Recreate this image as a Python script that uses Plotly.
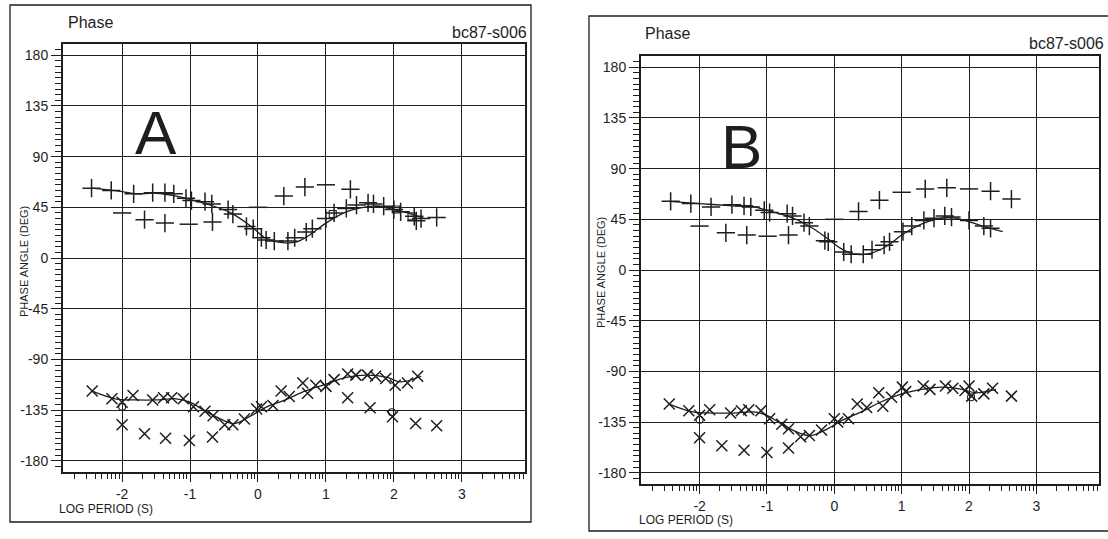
import plotly.graph_objects as go
import math

W, H = 1108, 539
INK = "#1e1e1e"
FONT = "Liberation Sans"

# ---------------- data: panel A ----------------
a_plus_x = [-2.45, -2.16, -1.83, -1.55, -1.37, -1.24, -1.06, -0.98, -0.78, -0.68, -0.44, -0.37,
            -0.17, -0.07, 0.05, 0.12, 0.24, 0.44, 0.54, 0.71, 0.80, 1.00, 1.12, 1.30, 1.45,
            1.62, 1.70, 1.85, 2.00, 2.10, 2.30, 2.40]
a_plus_y = [62, 60, 57, 58, 58, 57, 53, 51, 50, 48, 43, 39, 28, 26, 18, 16, 15, 15, 18, 23, 26,
            35, 40, 44, 47, 49, 48, 46, 43, 41, 37, 35]
a_plus_out_x = [-1.67, -1.37, -0.67, 0.38, 0.69, 1.36, 2.33, 2.63]
a_plus_out_y = [34, 31, 32, 55, 63, 61, 33, 36]
a_dash_x = [-2.0, -1.02, 0.0, 1.0]
a_dash_y = [40, 30, 45, 65]
a_plus_model_x = [-2.45, -2.0, -1.8, -1.5, -1.2, -1.0, -0.7, -0.4, -0.1, 0.1, 0.3, 0.55, 0.75,
                  1.0, 1.3, 1.55, 1.75, 2.0, 2.2, 2.45]
a_plus_model_y = [62, 59, 57, 57.5, 55, 52, 47, 40, 28, 18, 14, 14, 20, 31, 41, 45, 46, 43, 40, 35]
a_sq_x = [1.1, 2.03, 2.26]
a_sq_y = [39, 43, 37]

a_x_x = [-2.44, -2.15, -2.0, -1.84, -1.55, -1.39, -1.27, -1.10, -0.95, -0.78, -0.66, -0.49,
         -0.37, -0.20, -0.02, 0.05, 0.22, 0.34, 0.46, 0.66, 0.73, 0.85, 1.00, 1.12, 1.32,
         1.44, 1.61, 1.73, 1.88, 2.02, 2.20, 2.35]
a_x_y = [-118, -125, -128, -122, -126, -124, -124, -125, -132, -136, -140, -148, -148, -143,
         -134, -132, -131, -118, -123, -111, -120, -113, -114, -108, -103, -104, -104, -105,
         -107, -113, -111, -105]
a_x_out_x = [-2.0, -1.67, -1.36, -1.01, -0.67, 1.32, 1.65, 1.98, 2.32, 2.63]
a_x_out_y = [-148, -156, -160, -162, -159, -124, -133, -141, -147, -149]
a_x_model_x = [-2.45, -2.1, -1.8, -1.5, -1.2, -1.0, -0.8, -0.55, -0.35, -0.1, 0.1, 0.4, 0.7,
               1.0, 1.3, 1.6, 1.9, 2.1, 2.4]
a_x_model_y = [-118, -125, -126, -126, -125, -128, -135, -143, -147, -140, -133, -126, -118,
               -112, -106, -104, -106, -110, -105]
a_circ_x = [-2.0, 1.97]
a_circ_y = [-132, -137]

# ---------------- data: panel B ----------------
b_plus_x = [-2.43, -2.13, -1.83, -1.52, -1.34, -1.24, -1.04, -0.96, -0.70, -0.62, -0.45, -0.37,
            -0.14, -0.09, 0.14, 0.25, 0.43, 0.56, 0.74, 0.82, 1.02, 1.15, 1.33, 1.48, 1.64,
            1.74, 2.00, 2.22, 2.32]
b_plus_y = [61, 59, 56, 58, 57, 56, 53, 51, 50, 48, 42, 39, 26, 25, 16, 14, 14, 18, 22, 25,
            34, 39, 44, 46, 48, 47, 44, 39, 37]
b_plus_out_x = [-1.61, -1.30, -0.68, 0.36, 0.67, 1.35, 1.67, 2.32, 2.63]
b_plus_out_y = [33, 31, 31, 52, 62, 72, 73, 70, 63]
b_dash_x = [-2.0, -0.99, 0.0, 1.0, 2.0]
b_dash_y = [39, 30, 45, 69, 72]
b_plus_model_x = [-2.45, -2.0, -1.5, -1.2, -1.0, -0.7, -0.4, -0.1, 0.1, 0.3, 0.55, 0.8, 1.0,
                  1.3, 1.6, 1.8, 2.0, 2.2, 2.5]
b_plus_model_y = [61, 59, 57, 56, 53, 48, 40, 28, 19, 14, 15, 22, 31, 41, 46, 46, 43, 39, 34]

b_x_x = [-2.45, -2.16, -2.0, -1.85, -1.54, -1.38, -1.27, -1.09, -0.96, -0.78, -0.68, -0.50,
         -0.37, -0.19, 0.0, 0.05, 0.21, 0.34, 0.48, 0.66, 0.72, 0.85, 1.01, 1.06, 1.32, 1.42,
         1.65, 1.76, 1.94, 2.04, 2.22, 2.35]
b_x_y = [-119, -125, -129, -124, -127, -125, -124, -125, -132, -137, -141, -148, -147, -142,
         -132, -135, -132, -119, -122, -109, -121, -113, -104, -108, -103, -106, -103, -105,
         -107, -112, -110, -105]
b_x_out_x = [-2.0, -1.67, -1.34, -1.0, -0.68, 2.0, 2.63]
b_x_out_y = [-149, -156, -160, -162, -158, -103, -112]
b_x_model_x = [-2.45, -2.1, -1.8, -1.5, -1.2, -1.0, -0.8, -0.55, -0.35, -0.1, 0.1, 0.4, 0.7,
               1.0, 1.3, 1.6, 1.9, 2.1, 2.4]
b_x_model_y = [-119, -126, -127, -127, -126, -129, -136, -144, -147, -141, -134, -126, -117,
               -110, -106, -104, -106, -109, -106]
b_circ_x = [-2.0, 2.03]
b_circ_y = [-133, -113]

# ---------------- axes ----------------
y_ticks = [-180, -135, -90, -45, 0, 45, 90, 135, 180]
y_labels = ["-180", "-135", "-90", "-45", "0", "45", "90", "135", "180"]
x_ticks = [-2, -1, 0, 1, 2, 3]
x_labels = ["-2", "-1", "0", "1", "2", "3"]
x_range = [-2.87, 3.93]
y_range = [-190, 190]

x_minor = [d + math.log10(k) for d in range(-3, 4) for k in range(2, 10)
           if x_range[0] < d + math.log10(k) < x_range[1]]
y_minor = [v for v in range(-185, 190, 5) if v % 45 != 0]


def px(x):
    return x / W


def py(y):
    return 1 - y / H


fig = go.Figure()


def add_panel(idx, plus, plus_out, dash, plus_model, squares, xs, x_out, x_model, circles):
    xa = "x" if idx == 1 else "x2"
    ya = "y" if idx == 1 else "y2"
    common = dict(xaxis=xa, yaxis=ya, showlegend=False, hoverinfo="skip")

    def mk(sym, size, lw):
        return dict(symbol=sym, size=size, color=INK, line=dict(color=INK, width=lw))

    fig.add_trace(go.Scatter(x=plus_model[0], y=plus_model[1], mode="lines",
                             line=dict(color=INK, width=1.3, shape="spline"), **common))
    fig.add_trace(go.Scatter(x=x_model[0], y=x_model[1], mode="lines",
                             line=dict(color=INK, width=1.3, shape="spline"), **common))
    fig.add_trace(go.Scatter(x=plus[0], y=plus[1], mode="markers",
                             marker=mk("cross-thin-open", 13, 1.5), **common))
    fig.add_trace(go.Scatter(x=plus_out[0], y=plus_out[1], mode="markers",
                             marker=mk("cross-thin-open", 13, 1.5), **common))
    fig.add_trace(go.Scatter(x=dash[0], y=dash[1], mode="markers",
                             marker=mk("line-ew-open", 13, 1.5), **common))
    fig.add_trace(go.Scatter(x=squares[0], y=squares[1], mode="markers",
                             marker=mk("square-open", 7, 1.1), **common))
    fig.add_trace(go.Scatter(x=xs[0], y=xs[1], mode="markers",
                             marker=mk("x-thin-open", 11, 1.5), **common))
    fig.add_trace(go.Scatter(x=x_out[0], y=x_out[1], mode="markers",
                             marker=mk("x-thin-open", 11, 1.5), **common))
    fig.add_trace(go.Scatter(x=circles[0], y=circles[1], mode="markers",
                             marker=mk("circle-open", 7, 1.1), **common))


add_panel(1, (a_plus_x, a_plus_y), (a_plus_out_x, a_plus_out_y), (a_dash_x, a_dash_y),
          (a_plus_model_x, a_plus_model_y), (a_sq_x, a_sq_y),
          (a_x_x, a_x_y), (a_x_out_x, a_x_out_y), (a_x_model_x, a_x_model_y),
          (a_circ_x, a_circ_y))
add_panel(2, (b_plus_x, b_plus_y), (b_plus_out_x, b_plus_out_y), (b_dash_x, b_dash_y),
          (b_plus_model_x, b_plus_model_y), ([], []),
          (b_x_x, b_x_y), (b_x_out_x, b_x_out_y), (b_x_model_x, b_x_model_y),
          (b_circ_x, b_circ_y))


def xaxis(left, right, anchor):
    return dict(domain=[px(left), px(right)], range=x_range, anchor=anchor,
                tickmode="array", tickvals=x_ticks, ticktext=x_labels,
                ticks="outside", ticklen=8, tickwidth=1.2, tickcolor=INK,
                tickfont=dict(family=FONT, size=14, color=INK),
                showgrid=True, gridcolor=INK, gridwidth=1.3,
                showline=True, mirror=True, linecolor=INK, linewidth=2,
                zeroline=False,
                minor=dict(tickvals=x_minor, ticks="outside", ticklen=5,
                           tickwidth=1, tickcolor=INK, showgrid=False))


def yaxis(top, bottom, anchor):
    return dict(domain=[py(bottom), py(top)], range=y_range, anchor=anchor,
                tickmode="array", tickvals=y_ticks, ticktext=y_labels,
                ticks="outside", ticklen=10, tickwidth=1.2, tickcolor=INK,
                tickfont=dict(family=FONT, size=14, color=INK),
                showgrid=True, gridcolor=INK, gridwidth=1.3,
                showline=True, mirror=True, linecolor=INK, linewidth=2,
                zeroline=False,
                minor=dict(tickvals=y_minor, ticks="outside", ticklen=6,
                           tickwidth=1, tickcolor=INK, showgrid=False))


A_L, A_R, A_T, A_B = 63, 525, 44, 472
B_L, B_R, B_T, B_B = 641, 1099, 56, 484

fig.update_layout(
    width=W, height=H, margin=dict(l=0, r=0, t=0, b=0),
    paper_bgcolor="white", plot_bgcolor="white",
    xaxis=xaxis(A_L, A_R, "y"), yaxis=yaxis(A_T, A_B, "x"),
    xaxis2=xaxis(B_L, B_R, "y2"), yaxis2=yaxis(B_T, B_B, "x2"),
)

# outer boxes
fig.add_shape(type="rect", xref="paper", yref="paper", x0=px(10), x1=px(531), y0=py(522), y1=py(5),
              line=dict(color=INK, width=1.3))
fig.add_shape(type="rect", xref="paper", yref="paper", x0=px(589), x1=px(1115), y0=py(531), y1=py(16),
              line=dict(color=INK, width=1.3))


def text(x, y, s, size, xanchor="left", angle=0, family=FONT):
    fig.add_annotation(x=px(x), y=py(y), xref="paper", yref="paper", text=s, showarrow=False,
                       xanchor=xanchor, yanchor="middle", textangle=angle,
                       font=dict(family=family, size=size, color=INK))


# panel A texts
text(66, 23, "Phase", 16)
text(529, 32, "bc87-s006", 16, xanchor="right")
text(24, 262, "PHASE ANGLE (DEG)", 11, xanchor="center", angle=-90)
text(57, 509, "LOG PERIOD (S)", 12)
text(156, 133, "A", 62, xanchor="center")
# panel B texts
text(643, 34, "Phase", 16)
text(1106, 44, "bc87-s006", 16, xanchor="right")
text(601, 273, "PHASE ANGLE (DEG)", 11, xanchor="center", angle=-90)
text(637, 520, "LOG PERIOD (S)", 12)
text(741, 146, "B", 62, xanchor="center")

fig.write_html("out.html")
